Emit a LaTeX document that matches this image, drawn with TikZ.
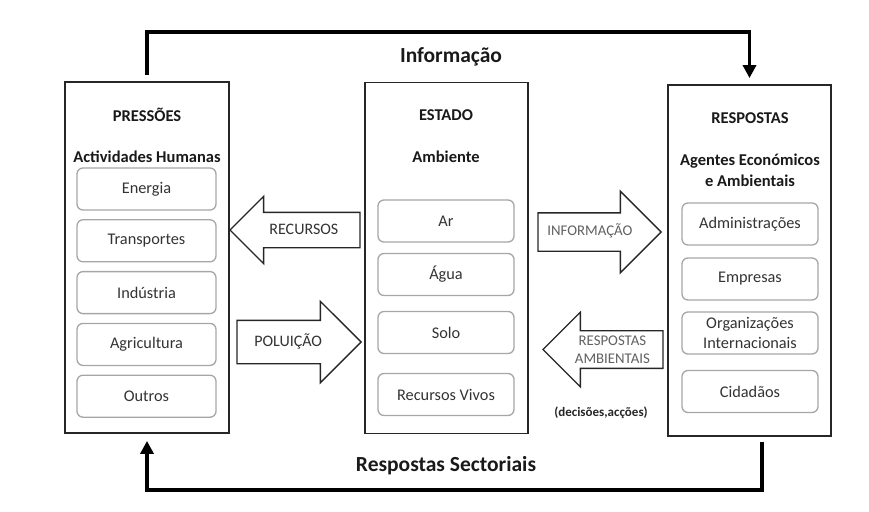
\documentclass[tikz,border=0pt]{standalone}
\usepackage{fontspec}
\setmainfont{Carlito}
\usetikzlibrary{shapes.arrows,arrows.meta,positioning}

\begin{document}
\begin{tikzpicture}[
  x=1pt, y=-1pt,
  every node/.style = {font=\fontsize{16.3}{20}\selectfont, text=black!80},
  panel/.style = {rectangle, draw=black!85, line width=1.8pt,
    minimum width=164pt, minimum height=351pt},
  title/.style = {font=\fontsize{16.5}{21}\selectfont\bfseries, text=black!90,
    align=center},
  item/.style = {rectangle, rounded corners=6pt, draw=black!35, line width=1.3pt,
    minimum width=139pt, minimum height=42pt, align=center, inner sep=0pt},
  bigarr/.style = {single arrow, draw=black!85, line width=1.4pt, fill=white,
    inner xsep=0pt, align=center},
  darklbl/.style = {font=\fontsize{16}{19}\selectfont, text=black!80,
    text height=11pt, text depth=2pt},
  greylbl/.style = {font=\fontsize{14.8}{18.5}\selectfont, text=black!62},
  fb/.style = {-{Triangle[length=13pt,width=13pt]}, line width=3.5pt},
  big/.style = {font=\fontsize{21.5}{24}\selectfont\bfseries, text=black!90}
]
\useasboundingbox (0,0) rectangle (869,511);

% the three panels
\node[panel]                    (pres) at (147,257.5) {};
\node[panel, minimum width=163pt] (est)  at (446.5,258) {};
\node[panel, minimum width=163pt] (resp) at (749.5,260.5) {};

% pressures
\node[title] (presT) at (147,115) {PRESSÕES};
\node[title] (presS) at (147,157) {Actividades Humanas};
\node[item] (energia) at (146.5,189) {Energia};
\node[item, below=8.5pt of energia] (transp) {Transportes};
\node[item, below=8.5pt of transp]  (indus)  {Indústria};
\node[item, below=8.5pt of indus]   (agric)  {Agricultura};
\node[item, below=8.5pt of agric]   (outros) {Outros};

% state
\node[title] (estT) at (446,115) {ESTADO};
\node[title] (estS) at (446,157) {Ambiente};
\node[item, minimum width=136pt] (ar)    at (446,221)   {Ar};
\node[item, minimum width=136pt] (agua)  at (446,274.5) {Água};
\node[item, minimum width=136pt] (solo)  at (446,332.5) {Solo};
\node[item, minimum width=136pt] (vivos) at (446,394.5) {Recursos Vivos};

% responses
\node[title] (respT) at (750,118) {RESPOSTAS};
\node[title] (respS) at (750,170) {Agentes Económicos\\e Ambientais};
\node[item, minimum width=136pt] (admin) at (750,224)   {Administrações};
\node[item, minimum width=136pt] (empr)  at (750,279)   {Empresas};
\node[item, minimum width=136pt] (org)   at (750,333)   {Organizações\\Internacionais};
\node[item, minimum width=136pt] (cid)   at (750,391.5) {Cidadãos};

% block arrows between panels
\node[bigarr, darklbl, shape border rotate=180, minimum height=130pt,
  inner ysep=10.5pt, single arrow head extend=16pt, anchor=tip]
  (recursos) at (229,230) {RECURSOS};
\node[bigarr, darklbl, minimum height=124pt,
  inner ysep=14.5pt, single arrow head extend=19pt, anchor=tip]
  (poluicao) at (362,342) {POLUIÇÃO};
\node[bigarr, greylbl, minimum height=123pt, text height=10pt, text depth=3pt,
  inner ysep=12pt, single arrow head extend=21.5pt, anchor=tip]
  (informa) at (662,232) {INFORMAÇÃO};
\node[bigarr, greylbl, shape border rotate=180, minimum height=120pt,
  inner ysep=4pt, single arrow head extend=18.5pt, anchor=tip]
  (respamb) at (542,349.5) {RESPOSTAS\\AMBIENTAIS};
\node[font=\fontsize{13}{15}\selectfont\bfseries, text=black!85]
  (decis) at (601,413) {(decisões,acções)};

% feedback loops
\coordinate (topY) at (0,32);
\coordinate (botY) at (0,490);
\draw[fb, shorten <=6pt, shorten >=6pt]
  (pres.north) -- (pres.north |- topY) -| (resp.north);
\draw[fb, shorten <=5pt, shorten >=7pt]
  ([xshift=12.5pt]resp.south) -- ([xshift=12.5pt]resp.south |- botY) -| (pres.south);
\node[big] (info) at (451,57)  {Informação};
\node[big] (sect) at (446,466) {Respostas Sectoriais};
\end{tikzpicture}
\end{document}
